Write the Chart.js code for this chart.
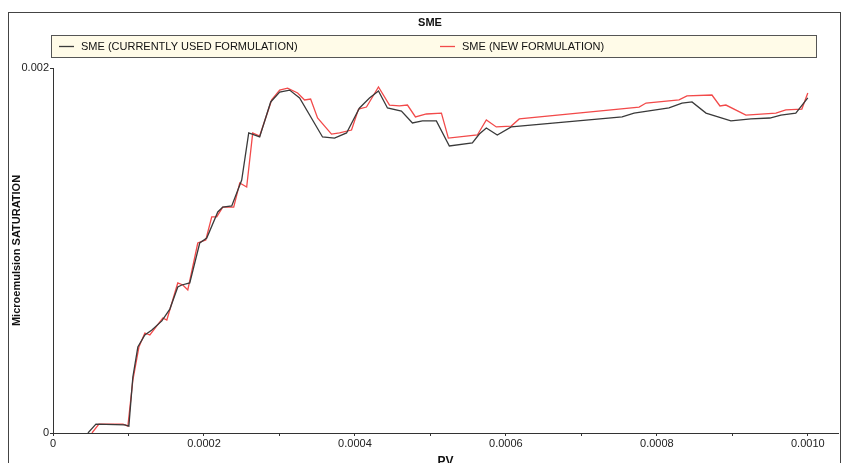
<!DOCTYPE html>
<html>
<head>
<meta charset="utf-8">
<script src="https://cdn.jsdelivr.net/npm/chart.js@4"></script>
<style>
  body { margin: 0; background: #fff; }
  #wrap { width: 846px; height: 463px; }
</style>
</head>
<body>
<div id="wrap"><canvas id="smeChart"></canvas></div>
<script>
// PV values and SME saturation
const pvCurrent = [0.0000463, 0.0000569, 0.0000952, 0.0001005, 0.0001058, 0.0001124, 0.0001217, 0.0001310, 0.0001442, 0.0001548,
  0.0001653, 0.0001706, 0.0001812, 0.0001944, 0.0002037, 0.0002183, 0.0002249, 0.0002368, 0.0002500, 0.0002593,
  0.0002738, 0.0002884, 0.0003003, 0.0003135, 0.0003267, 0.0003571, 0.0003730, 0.0003889, 0.0004061, 0.0004193,
  0.0004312, 0.0004431, 0.0004616, 0.0004762, 0.0004894, 0.0005079, 0.0005251, 0.0005556, 0.0005648, 0.0005741,
  0.0005886, 0.0006071, 0.0007540, 0.0007698, 0.0008161, 0.0008333, 0.0008466, 0.0008651, 0.0008981, 0.0009246,
  0.0009497, 0.0009643, 0.0009841, 0.0010000];
const smeCurrent = [0, 0.000049, 0.000044, 0.000038, 0.000307, 0.000471, 0.000537, 0.000564, 0.000614, 0.000679,
  0.000800, 0.000811, 0.000822, 0.001041, 0.001068, 0.001211, 0.001238, 0.001244, 0.001386, 0.001644,
  0.001622, 0.001814, 0.001868, 0.001879, 0.001836, 0.001622, 0.001616, 0.001644, 0.001781, 0.001836,
  0.001874, 0.001781, 0.001764, 0.001699, 0.001710, 0.001710, 0.001573, 0.001589, 0.001638, 0.001671,
  0.001633, 0.001677, 0.001732, 0.001753, 0.001781, 0.001808, 0.001814, 0.001753, 0.001710, 0.001721,
  0.001726, 0.001742, 0.001753, 0.001836];

const pvNew = [0.0000516, 0.0000608, 0.0000926, 0.0000992, 0.0001058, 0.0001138, 0.0001217, 0.0001283, 0.0001455, 0.0001508,
  0.0001653, 0.0001720, 0.0001786, 0.0001918, 0.0002024, 0.0002103, 0.0002169, 0.0002249, 0.0002394, 0.0002474,
  0.0002566, 0.0002646, 0.0002738, 0.0002897, 0.0003003, 0.0003108, 0.0003241, 0.0003333, 0.0003413, 0.0003505,
  0.0003690, 0.0003796, 0.0003955, 0.0004048, 0.0004153, 0.0004312, 0.0004458, 0.0004590, 0.0004696, 0.0004802,
  0.0004947, 0.0005146, 0.0005238, 0.0005622, 0.0005741, 0.0005873, 0.0006071, 0.0006177, 0.0007765, 0.0007857,
  0.0008294, 0.0008399, 0.0008730, 0.0008836, 0.0008915, 0.0009180, 0.0009577, 0.0009709, 0.0009921, 0.0010000];
const smeNew = [0, 0.000049, 0.000049, 0.000038, 0.000290, 0.000471, 0.000548, 0.000537, 0.000630, 0.000619,
  0.000822, 0.000811, 0.000784, 0.001041, 0.001058, 0.001184, 0.001184, 0.001238, 0.001238, 0.001370,
  0.001348, 0.001644, 0.001627, 0.001825, 0.001879, 0.001890, 0.001863, 0.001825, 0.001830, 0.001726,
  0.001638, 0.001644, 0.001660, 0.001775, 0.001786, 0.001896, 0.001797, 0.001792, 0.001797, 0.001732,
  0.001748, 0.001753, 0.001616, 0.001633, 0.001715, 0.001677, 0.001682, 0.001721, 0.001786, 0.001808,
  0.001825, 0.001847, 0.001852, 0.001792, 0.001797, 0.001742, 0.001753, 0.001770, 0.001775, 0.001863];

const seriesNames = ["SME (CURRENTLY USED FORMULATION)", "SME (NEW FORMULATION)"];
// x ticks every 0.0001, labels on every second one
const xTickValues = [0, 0.0001, 0.0002, 0.0003, 0.0004, 0.0005, 0.0006, 0.0007, 0.0008, 0.0009, 0.0010];
const xTickLabels = ["0", "", "0.0002", "", "0.0004", "", "0.0006", "", "0.0008", "", "0.0010"];
const yTickValues = [0, 0.002];
const yTickLabels = ["0", "0.002"];

const FONT = "'Liberation Sans', Arial, sans-serif";

function toPoints(xs, ys) {
  return xs.map((x, i) => ({ x: x, y: ys[i] }));
}

// frame, title and legend box around the plot
const framePlugin = {
  id: "frame",
  afterDraw(chart) {
    const ctx = chart.ctx;
    ctx.save();
    ctx.strokeStyle = "#444";
    ctx.lineWidth = 1;
    ctx.strokeRect(8.5, 12.5, 832, 470);

    ctx.fillStyle = "#111";
    ctx.font = "bold 11px " + FONT;
    ctx.textAlign = "center";
    ctx.textBaseline = "middle";
    ctx.fillText("SME", 430, 23);

    // legend box
    ctx.fillStyle = "#fffbe8";
    ctx.fillRect(51, 35, 765, 22);
    ctx.strokeStyle = "#555";
    ctx.strokeRect(51.5, 35.5, 765, 22);

    const ds = chart.data.datasets;
    const itemX = [59, 440];
    ctx.font = "11px " + FONT;
    ctx.textAlign = "left";
    ds.forEach((d, i) => {
      ctx.strokeStyle = d.borderColor;
      ctx.lineWidth = 1.3;
      ctx.beginPath();
      ctx.moveTo(itemX[i], 46.5);
      ctx.lineTo(itemX[i] + 15, 46.5);
      ctx.stroke();
      ctx.fillStyle = "#111";
      ctx.fillText(d.label, itemX[i] + 22, 46.5);
    });
    ctx.restore();
  }
};

new Chart(document.getElementById("smeChart"), {
  type: "line",
  data: {
    datasets: [
      {
        label: seriesNames[0],
        data: toPoints(pvCurrent, smeCurrent),
        borderColor: "#3a3a3a",
        borderWidth: 1.3,
        pointRadius: 0,
        tension: 0
      },
      {
        label: seriesNames[1],
        data: toPoints(pvNew, smeNew),
        borderColor: "#f24a4a",
        borderWidth: 1.3,
        pointRadius: 0,
        tension: 0
      }
    ]
  },
  options: {
    responsive: true,
    maintainAspectRatio: false,
    animation: false,
    layout: { padding: { left: 8, right: 8, top: 68, bottom: 0 } },
    plugins: {
      legend: { display: false },
      tooltip: { enabled: false }
    },
    scales: {
      x: {
        type: "linear",
        min: 0,
        max: 0.00104,
        afterFit(scale) { scale.height = 30; },
        afterBuildTicks(scale) {
          scale.ticks = xTickValues.map(v => ({ value: v }));
        },
        ticks: {
          autoSkip: false,
          maxRotation: 0,
          padding: 1,
          color: "#222",
          font: { size: 11, family: FONT },
          callback(v, i) { return xTickLabels[i]; }
        },
        grid: { drawOnChartArea: false, drawTicks: true, tickLength: 3, color: "#333" },
        border: { color: "#333", width: 1 },
        title: {
          display: true,
          text: "PV",
          color: "#111",
          font: { size: 12, weight: "bold", family: FONT },
          padding: { top: 0, bottom: -6 }
        }
      },
      y: {
        min: 0,
        max: 0.002,
        afterFit(scale) { scale.width = 45; },
        afterBuildTicks(scale) {
          scale.ticks = yTickValues.map(v => ({ value: v }));
        },
        ticks: {
          padding: 1,
          color: "#222",
          font: { size: 11, family: FONT },
          callback(v, i) { return yTickLabels[i]; }
        },
        grid: { drawOnChartArea: false, drawTicks: true, tickLength: 3, color: "#333" },
        border: { color: "#333", width: 1 },
        title: {
          display: true,
          text: "Microemulsion SATURATION",
          color: "#111",
          font: { size: 11, weight: "bold", family: FONT },
          padding: { top: 2, bottom: 0 }
        }
      }
    }
  },
  plugins: [framePlugin]
});
</script>
</body>
</html>
